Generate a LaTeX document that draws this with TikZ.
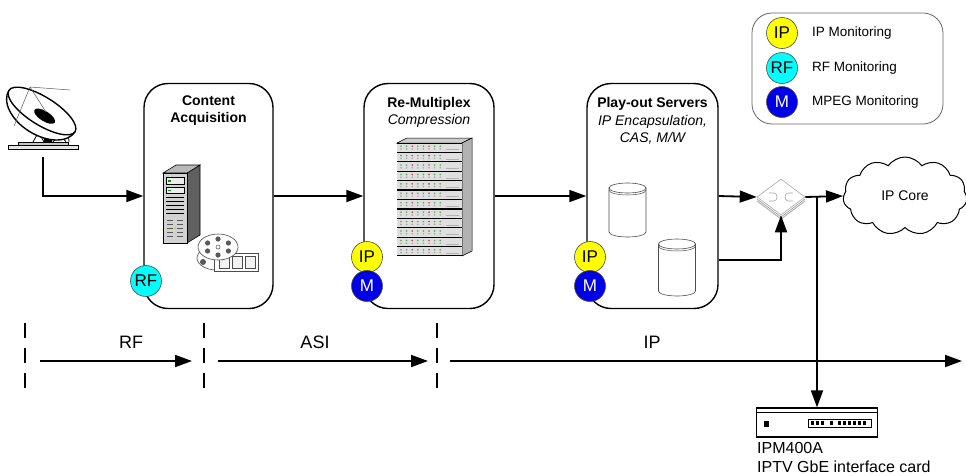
\documentclass[tikz,border=0pt]{standalone}
\usepackage{fontspec}
\setmainfont{Liberation Sans}
\usetikzlibrary{arrows.meta,shapes.symbols,shapes.geometric,calc}
\definecolor{rfcyan}{RGB}{0,255,255}
\definecolor{ipyellow}{RGB}{255,255,0}
\definecolor{mpegblue}{RGB}{0,0,230}

\begin{document}
\begin{tikzpicture}[x=1pt,y=-1pt,
  flow/.style={line width=1.8pt,-{Triangle[length=17pt,width=12pt]}},
  stage/.style={draw,line width=1.4pt,rounded corners=24pt,minimum width=129pt,minimum height=225pt,inner sep=0pt},
  title/.style={font=\bfseries\fontsize{14}{17}\selectfont,align=center,inner sep=0pt},
  sub/.style={font=\itshape\fontsize{14}{17}\selectfont,align=center,inner sep=0pt},
  mon/.style={circle,draw=black!70,line width=0.6pt,minimum size=31pt,inner sep=0pt,font=\fontsize{17}{17}\selectfont},
  ipmon/.style={mon,fill=ipyellow},
  rfmon/.style={mon,fill=rfcyan},
  mpmon/.style={mon,fill=mpegblue,text=white},
  zone/.style={line width=1.6pt,dash pattern=on 15pt off 10pt},
  zonelabel/.style={font=\fontsize{18}{18}\selectfont,inner sep=0pt},
  legendtext/.style={font=\fontsize{13.5}{16}\selectfont,anchor=west,inner sep=0pt},
  drumline/.style={draw=gray!60!black,line width=0.6pt,fill=white},
]
\useasboundingbox (0,0) rectangle (966,475);

% ---------- processing stages ----------
\node[stage] (acq) at (208.5,196) {};
\node[stage,minimum width=130pt] (mux) at (429,196) {};
\node[stage,minimum width=131pt] (play) at (652.5,196) {};

\node[title] (acqT) at (208.5,111) {Content\\Acquisition};
\node[title] (muxT) at (429,104) {Re-Multiplex};
\node[sub] (muxS) at (429,121) {Compression};
\node[title] (playT) at (652.5,104) {Play-out Servers};
\node[sub] (playS) at (652.5,129.5) {IP Encapsulation,\\CAS, M/W};

% ---------- satellite dish ----------
\draw[fill=gray!20,line width=0.8pt] (8,145) rectangle (78,149);
\draw[fill=gray!45,line width=0.6pt] (18,142) rectangle (68,145);
\draw[line width=0.8pt] (33,142) -- (43,124) (34,124) -- (44,142)
  (53,124) -- (66,142) (66,124) -- (53,142) (68,126) -- (69,142);
\fill (44,116) rectangle (52,142);
\draw[line width=1.4pt,fill=white,rotate around={-32:(42,111)}]
  (3,111) arc[start angle=180,end angle=0,x radius=39,y radius=24];
\draw[line width=1.4pt,fill=white,rotate around={-32:(42,111)}]
  (42,111) ellipse[x radius=39,y radius=14];
\fill[rotate around={-32:(42,111)}] (47,114) ellipse[x radius=12,y radius=5];
\draw[gray!70!black,line width=0.5pt] (30,87) -- (14,126) (30,87) -- (46,112) (30,87) -- (70,90);

% ---------- server tower and film reels ----------
\draw[fill=gray!75!black,line width=0.6pt] (187,173) -- (200,165) -- (200,235) -- (187,243) -- cycle;
\draw[fill=gray!55,line width=0.6pt] (163,173) -- (176,165) -- (200,165) -- (187,173) -- cycle;
\draw[fill=gray!35,line width=0.6pt] (163,173) rectangle (187,243);
\draw[fill=gray!15,line width=0.4pt] (166,177) rectangle (184,184);
\draw[fill=gray!15,line width=0.4pt] (166,187) rectangle (184,193);
\fill[green!60!black] (168,180) rectangle (171,181.5);
\fill[green!60!black] (168,189.5) rectangle (171,191);
\foreach \yy in {197,201,205,209,213} \draw[line width=0.4pt] (166,\yy) -- (184,\yy);
\foreach \yy in {220,224,228,232,236} {\draw[gray!70!black,line width=0.5pt] (167,\yy) -- (173,\yy); \draw[gray!70!black,line width=0.5pt] (177,\yy) -- (183,\yy);}
\fill[yellow!70!green] (175,228) circle (1.2);

\draw[fill=white,draw=gray!60!black,line width=0.6pt] (217,258) ellipse[x radius=20,y radius=12];
\draw[fill=white,draw=gray!60!black,line width=0.6pt] (214,253) rectangle (258,271);
\foreach \xx in {219,232,245} \draw[fill=gray!10,draw=gray!60!black,line width=0.5pt] (\xx,256) rectangle (\xx+10,268);
\fill[gray!70!black] (203,262) circle (3);
\draw[fill=white,draw=gray!60!black,line width=0.6pt] (218,247) ellipse[x radius=20,y radius=13];
\foreach \a in {30,90,150,210,270,330}
  \fill[gray!70!black] ($(218,247)+(\a:12 and 8)$) circle (2.6);
\draw[gray!60!black,line width=0.5pt] (218,247) circle (2);

% ---------- multiplexer rack ----------
\draw[fill=gray!40,line width=0.5pt] (397,143) -- (407,138) -- (472,138) -- (462,143) -- cycle;
\draw[fill=gray!60,line width=0.5pt] (462,143) -- (472,138) -- (472,251) -- (462,256) -- cycle;
\fill (397,143) rectangle (462,256);
\foreach \i in {0,...,11} {
  \pgfmathsetmacro\yy{143.6+\i*9.42}
  \fill[gray!25] (397.4,\yy) rectangle (461.6,\yy+8.2);
  \foreach \k in {0,...,7} {
    \pgfmathsetmacro\dotc{mod(\k,3)==2 ? "red!50!gray" : "green!40!gray"}
    \fill[\dotc] (401+\k*5.6,\yy+2.6) circle (0.9);
    \fill[gray!70] (401+\k*5.6,\yy+5.4) circle (0.9);
  }
  \draw[gray!60,line width=0.5pt] (446,\yy+6) -- (459,\yy+6);
}

% ---------- play-out storage ----------
\foreach \cx/\ty/\h in {627.5/188/44, 677/244/47} {
  \path[drumline] (\cx-18.5,\ty) -- (\cx-18.5,\ty+\h)
     arc[start angle=180,end angle=0,x radius=18.5,y radius=5] -- (\cx+18.5,\ty) -- cycle;
  \path[drumline] (\cx,\ty) ellipse[x radius=18.5,y radius=5];
  \draw[gray!60!black,line width=0.5pt] (\cx-18.5,\ty+2)
     arc[start angle=180,end angle=0,x radius=18.5,y radius=5];
}

% ---------- monitoring points ----------
\node[rfmon] (acqRF) at (146,281) {RF};
\node[ipmon] (muxIP) at (367,257) {IP};
\node[mpmon] (muxM) at (367,286) {M};
\node[ipmon] (playIP) at (590,257) {IP};
\node[mpmon] (playM) at (590,286) {M};

% ---------- switch ----------
\draw[gray!60,line width=1pt] (757,201) -- (781,219) -- (805,201);
\draw[gray!80,line width=0.6pt] (757,199) -- (781,217) -- (805,199);
\node[diamond,draw=gray!70,fill=white,line width=0.6pt,minimum width=48pt,minimum height=36pt,inner sep=0pt] (sw) at (781,197) {};
\draw[gray!70,line width=0.6pt] (769,193) -- (774,193) .. controls (778,193) and (778,201) .. (774,201) -- (769,201);
\draw[gray!70,line width=0.6pt] (793,193) -- (788,193) .. controls (784,193) and (784,201) .. (788,201) -- (793,201);

% ---------- IP core ----------
\node[cloud,draw,line width=1pt,cloud puffs=11,cloud puff arc=110,aspect=1.6,
  minimum width=124pt,minimum height=78pt,inner sep=0pt,font=\fontsize{14}{14}\selectfont] (core) at (905,196) {IP Core};

% ---------- probe card ----------
\node[draw,line width=1.2pt,fill=white,minimum width=121pt,minimum height=29pt,inner sep=0pt] (ipm) at (817,422.5) {};
\draw[line width=0.8pt] ($(ipm.north west)+(0,5)$) -- ($(ipm.north east)+(0,5)$);
\fill (764,421) rectangle (769,427);
\draw[line width=0.6pt] (808,419) rectangle (871,427);
\foreach \xx in {811,816,821,830,838,843,848,853,858,863} \fill (\xx,421) rectangle (\xx+3,425);
\node[anchor=north west,font=\fontsize{16}{19}\selectfont,align=left,inner sep=0pt] (ipmL) at (757,442) {IPM400A\\IPTV GbE interface card};

% ---------- connectors ----------
\coordinate (dishfoot) at (43,157);
\coordinate (playlow) at ($(play.east)+(0,64)$);
\coordinate (tap) at (817,197);
\draw[flow] (dishfoot) |- (acq.west);
\draw[flow] (acq.east) -- (mux.west);
\draw[flow] (mux.east) -- (play.west);
\draw[flow] (play.east) -- (sw.west);
\draw[flow] (playlow) -| (sw.south);
\draw[flow] (sw.east) -- (core.west);
\draw[flow] (tap) -- (ipm.north);

% ---------- transport segments ----------
\foreach \xx/\nm in {25/za,204/zb,437/zc} {
  \coordinate (\nm top) at (\xx,323);
  \coordinate (\nm bot) at (\xx,393);
  \draw[zone] (\nm top) -- (\nm bot);
}
\coordinate (rfA) at (40,361);   \coordinate (rfB) at (192,361);
\coordinate (asiA) at (218,361); \coordinate (asiB) at (428,361);
\coordinate (ipA) at (450,361);  \coordinate (ipB) at (962,361);
\draw[flow] (rfA) -- (rfB);
\draw[flow] (asiA) -- (asiB);
\draw[flow] (ipA) -- (ipB);
\node[zonelabel] (rfL) at (131,342) {RF};
\node[zonelabel] (asiL) at (315,342) {ASI};
\node[zonelabel] (ipL) at (652,342) {IP};

% ---------- legend ----------
\node[draw=black!60,line width=0.8pt,rounded corners=20pt,minimum width=191pt,minimum height=111pt] (legend) at (847.5,68.5) {};
\node[ipmon] (lgIP) at (782,33) {IP};
\node[rfmon] (lgRF) at (782,68) {RF};
\node[mpmon] (lgM) at (782,102) {M};
\node[legendtext] (lgIPt) at (812,33) {IP Monitoring};
\node[legendtext] (lgRFt) at (812,68) {RF Monitoring};
\node[legendtext] (lgMt) at (812,102) {MPEG Monitoring};
\end{tikzpicture}
\end{document}
